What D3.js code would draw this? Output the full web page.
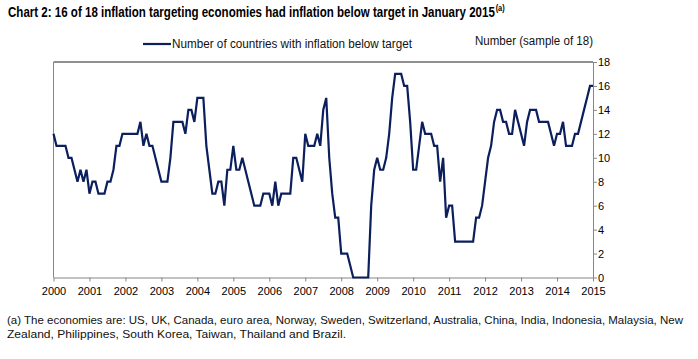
<!DOCTYPE html>
<html><head><meta charset="utf-8">
<script src="https://cdn.jsdelivr.net/npm/d3@7"></script>
<style>
body{margin:0;background:#fff;}
svg{display:block;font-family:"Liberation Sans",Arial,sans-serif;}
</style>
</head><body>
<svg id="c" width="698" height="359"></svg>
<script>
// Monthly data, Jan 2000 .. Jan 2015
const counts = [
  12,11,11,11,11,10,10,9,8,9,8,9,        // 2000
  7,8,8,7,7,7,8,8,9,11,11,12,            // 2001
  12,12,12,12,12,13,11,12,11,11,10,9,    // 2002
  8,8,8,10,13,13,13,13,12,14,14,13,      // 2003
  15,15,15,11,9,7,7,8,8,6,9,9,           // 2004
  11,9,9,10,9,8,7,6,6,6,7,7,             // 2005
  7,6,8,6,7,7,7,7,10,10,9,8,             // 2006
  12,11,11,11,12,11,14,15,10,7,5,5,      // 2007
  2,2,2,1,0,0,0,0,0,0,6,9,               // 2008
  10,9,9,10,12,15,17,17,17,16,16,13,     // 2009
  9,9,11,13,12,12,12,11,11,8,10,5,       // 2010
  6,6,3,3,3,3,3,3,3,5,5,6,               // 2011
  8,10,11,13,14,14,13,13,12,12,14,13,    // 2012
  12,11,13,14,14,14,13,13,13,13,12,11,   // 2013
  12,12,13,11,11,11,12,12,13,14,15,16,   // 2014
  16                                     // Jan 2015
];
const yearLabels = ["2000","2001","2002","2003","2004","2005","2006","2007","2008","2009","2010","2011","2012","2013","2014","2015"];
const yTicks = [0,2,4,6,8,10,12,14,16,18];
const titleText = "Chart 2: 16 of 18 inflation targeting economies had inflation below target in January 2015";
const titleNote = "(a)";
const legendText = "Number of countries with inflation below target";
const unitText = "Number (sample of 18)";
const footLines = [
  "(a) The economies are: US, UK, Canada, euro area, Norway, Sweden, Switzerland, Australia, China, India, Indonesia, Malaysia, New",
  "Zealand, Philippines, South Korea, Taiwan, Thailand and Brazil."
];

const svg = d3.select("#c");
const L = 53.5, R = 593, T = 62, B = 277.5;
const lineColor = "#0b1f5c";
const axisColor = "#868686";

const x = d3.scaleLinear().domain([0, counts.length - 1]).range([L, R]);
const y = d3.scaleLinear().domain([0, 18]).range([B, T]);

// frame: top and left
svg.append("line").attr("x1", L).attr("x2", R).attr("y1", y(18)).attr("y2", y(18))
  .attr("stroke", "#6b6b6b").attr("stroke-width", 1.4);
svg.append("line").attr("x1", L).attr("x2", L).attr("y1", y(18)).attr("y2", y(0))
  .attr("stroke", axisColor).attr("stroke-width", 1);

// bottom axis
const xAxis = d3.axisBottom(x)
  .tickValues(yearLabels.map((d, i) => i * 12))
  .tickFormat((d) => yearLabels[d / 12])
  .tickSize(4).tickSizeOuter(0);
const gx = svg.append("g").attr("transform", `translate(0,${B})`).call(xAxis);
gx.select(".domain").attr("stroke", axisColor);
gx.selectAll(".tick line").attr("stroke", axisColor);
gx.selectAll(".tick text").attr("font-size", 11).attr("fill", "#000")
  .attr("font-family", "Liberation Sans, Arial, sans-serif").attr("dy", "0.95em");

// right axis
const yAxis = d3.axisRight(y).tickValues(yTicks).tickSize(4).tickSizeOuter(0);
const gy = svg.append("g").attr("transform", `translate(${R},0)`).call(yAxis);
gy.select(".domain").attr("stroke", axisColor);
gy.selectAll(".tick line").attr("stroke", axisColor);
gy.selectAll(".tick text").attr("font-size", 11).attr("fill", "#000")
  .attr("font-family", "Liberation Sans, Arial, sans-serif").attr("x", 5);

// data line
const line = d3.line().x((d, i) => x(i)).y((d) => y(d));
svg.append("path").datum(counts).attr("d", line)
  .attr("fill", "none").attr("stroke", lineColor).attr("stroke-width", 2.2)
  .attr("stroke-linejoin", "miter");

// title as one text element with superscript tspan, compressed horizontally
const title = svg.append("text").attr("font-size", 14).attr("font-weight", "bold").attr("fill", "#000");
const mainSpan = title.append("tspan").text(titleText);
title.append("tspan").attr("dx", 1).attr("dy", -6).attr("font-size", 9).text(titleNote);
const mainW = mainSpan.node().getComputedTextLength();
const sx = 487 / mainW;
title.attr("transform", `translate(8,17) scale(${sx},1)`);

// legend
svg.append("line").attr("x1", 143).attr("x2", 171).attr("y1", 44).attr("y2", 44)
  .attr("stroke", lineColor).attr("stroke-width", 2.2);
svg.append("text").attr("x", 172).attr("y", 48).attr("font-size", 12).attr("fill", "#111")
  .attr("textLength", 240).attr("lengthAdjust", "spacingAndGlyphs").text(legendText);
svg.append("text").attr("x", 475).attr("y", 45).attr("font-size", 12).attr("fill", "#111")
  .attr("textLength", 118).attr("lengthAdjust", "spacingAndGlyphs").text(unitText);

// footnote
svg.append("text").attr("x", 7).attr("y", 324).attr("font-size", 11.5).attr("fill", "#111")
  .attr("textLength", 676).attr("lengthAdjust", "spacingAndGlyphs").text(footLines[0]);
svg.append("text").attr("x", 7).attr("y", 338).attr("font-size", 11.5).attr("fill", "#111")
  .attr("textLength", 339).attr("lengthAdjust", "spacingAndGlyphs").text(footLines[1]);
</script>
</body></html>
